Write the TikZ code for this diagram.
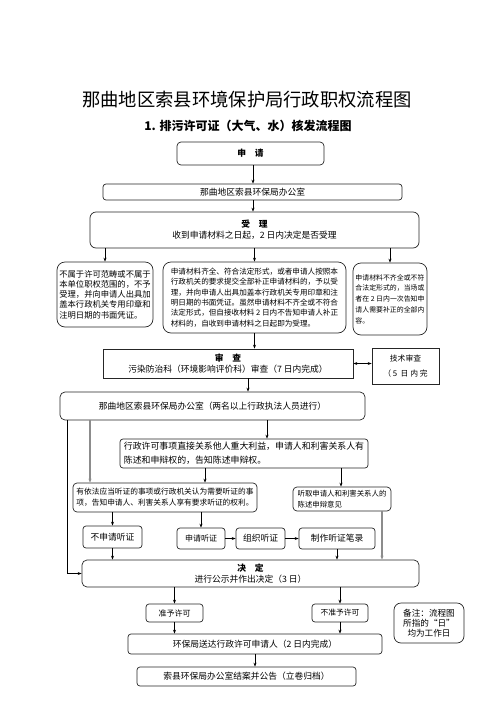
\documentclass[tikz,border=0pt]{standalone}
\usepackage{fontspec}
\setmainfont{Noto Sans CJK SC}
\usetikzlibrary{arrows.meta}
\begin{document}
\begin{tikzpicture}[
      x=1pt, y=-1pt,
      >={Stealth[length=4pt,width=3pt]},
      etape/.style={
        draw=black!85,
        line width=0.7pt,
        rounded corners=3pt,
        inner sep=1pt,
        font=\fontsize{8.75}{11}\selectfont
      },
      bulle/.style={etape, rounded corners=8pt},
      carre/.style={etape, rounded corners=0pt},
      fleche/.style={->, line width=0.7pt},
      grise/.style={->, draw=black!45, line width=1.1pt}
    ]
    \useasboundingbox (0,0) rectangle (496,702);
    \node (titre) at (247,100) {\fontsize{18.3}{20}\selectfont 那曲地区索县环境保护局行政职权流程图};
    \node (soustitre) at (248,126) {\fontsize{12}{14}\selectfont\textbf{1. 排污许可证（大气、水）核发流程图}};

    \node[etape, rounded corners=4pt, minimum width=147pt, minimum height=23pt] (demande) at (250.5,153.5) {\textbf{申\quad 请}};
    \node[etape, minimum width=299pt, minimum height=16pt] (bureau) at (252.5,192) {那曲地区索县环保局办公室};
    \node[etape, rounded corners=6pt, minimum width=329pt, minimum height=36pt, align=center] (accepte) at (254.5,230) {\textbf{受\quad 理}\\收到申请材料之日起，2 日内决定是否受理};

    \node[bulle, minimum width=96pt, minimum height=65pt, align=left, font=\fontsize{8.3}{10.3}\selectfont] (gauche) at (105,294.5) {不属于许可范畴或不属于\\本单位职权范围的，不予\\受理，并向申请人出具加\\盖本行政机关专用印章和\\注明日期的书面凭证。};
    \node[bulle, minimum width=183pt, minimum height=71pt, align=left, font=\fontsize{7.6}{10.3}\selectfont] (milieu) at (254.5,297.5) {申请材料齐全、符合法定形式，或者申请人按照本\\行政机关的要求提交全部补正申请材料的，予以受\\理，并向申请人出具加盖本行政机关专用印章和注\\明日期的书面凭证。虽然申请材料不齐全或不符合\\法定形式，但自接收材料 2 日内不告知申请人补正\\材料的，自收到申请材料之日起即为受理。};
    \node[bulle, minimum width=74pt, minimum height=72pt, align=left, font=\fontsize{6.9}{10.7}\selectfont] (droite) at (390,299) {申请材料不齐全或不符\\合法定形式的，当场或\\者在 2 日内一次告知申\\请人需要补正的全部内\\容。};

    \node[carre, minimum width=250pt, minimum height=29pt, align=center] (examen) at (228,363.5) {\textbf{审\quad 查}\\污染防治科（环境影响评价科）审查（7 日内完成）};
    \node[carre, minimum width=67pt, minimum height=36pt, align=center, font=\fontsize{7.8}{15}\selectfont] (technique) at (405.5,366.5) {技术审查\\（\ 5\ \ 日\ 内\ 完};

    \node[etape, rounded corners=5pt, minimum width=305pt, minimum height=28pt] (bureaudeux) at (212.5,406) {那曲地区索县环保局办公室（两名以上行政执法人员进行）};
    \node[etape, minimum width=248pt, minimum height=29pt, align=left, font=\fontsize{8.9}{14}\selectfont] (informe) at (244,453.5) {行政许可事项直接关系他人重大利益，申请人和利害关系人有\\陈述和申辩权的，告知陈述申辩权。};

    \node[etape, rounded corners=4pt, minimum width=184pt, minimum height=29pt, align=left, font=\fontsize{7.7}{11}\selectfont] (audition) at (165,497.5) {有依法应当听证的事项或行政机关认为需要听证的事\\项，告知申请人、利害关系人享有要求听证的权利。};
    \node[etape, rounded corners=4pt, minimum width=98pt, minimum height=24pt, align=left, font=\fontsize{7.4}{10.5}\selectfont] (ecoute) at (342,499) {听取申请人和利害关系人的\\陈述申辩意见\hspace{3em}};

    \node[etape, minimum width=59pt, minimum height=22pt] (sansaud) at (112.5,537) {不申请听证};
    \node[etape, minimum width=48pt, minimum height=21pt, font=\fontsize{8}{9}\selectfont] (demaud) at (201,538.5) {申请听证};
    \node[etape, minimum width=49pt, minimum height=21pt] (orgaud) at (260.5,538.5) {组织听证};
    \node[etape, minimum width=76pt, minimum height=21pt] (proces) at (337,538.5) {制作听证笔录};

    \node[etape, rounded corners=5pt, minimum width=337pt, minimum height=27pt, align=center] (decision) at (250.5,573.5) {\textbf{决\quad 定}\\进行公示并作出决定（3 日）};

    \node[etape, minimum width=57pt, minimum height=18pt, font=\fontsize{8}{10}\selectfont] (accord) at (174.5,613) {准予许可};
    \node[etape, minimum width=56pt, minimum height=18pt, font=\fontsize{7.8}{10}\selectfont] (refus) at (340,613) {不准予许可};
    \node[etape, rounded corners=7pt, minimum width=70pt, minimum height=40pt, align=center, font=\fontsize{8.6}{9.8}\selectfont] (note) at (429,623) {备注：流程图\\所指的“日”\\均为工作日};

    \node[etape, minimum width=254pt, minimum height=20pt] (notifie) at (255,644) {环保局送达行政许可申请人（2 日内完成）};
    \node[etape, minimum width=219pt, minimum height=19pt] (archive) at (246.5,676.5) {索县环保局办公室结案并公告（立卷归档）};

    \node[coordinate,xshift=2.5pt] (demandeb) at (demande.south) {};
    \node[coordinate,xshift=20pt] (examenb) at (examen.south) {};
    \node[coordinate,xshift=-145.5pt] (bdg) at (bureaudeux.south) {};
    \node[coordinate,xshift=-122.5pt] (bdh) at (bureaudeux.south) {};
    \node[coordinate,xshift=54.5pt] (bdd) at (bureaudeux.south) {};
    \node[coordinate,xshift=-39pt] (infg) at (informe.south) {};
    \node[coordinate,xshift=97pt] (infd) at (informe.south) {};
    \node[coordinate,xshift=40pt] (ecouteb) at (ecoute.south) {};

    \draw[fleche] (demandeb) -- (demandeb |- bureau.north);
    \draw[fleche] (demandeb |- bureau.south) -- (demandeb |- accepte.north);
    \draw[fleche] (gauche.north |- accepte.south) -- (gauche.north);
    \draw[fleche] (milieu.north |- accepte.south) -- (milieu.north);
    \draw[fleche] (droite.north |- accepte.south) -- (droite.north);
    \draw[fleche] (milieu.south) -- (milieu.south |- examen.north);
    \draw[fleche, <->] (examen.east) -- (technique.west |- examen.east);
    \draw[fleche] (examenb) -- (examenb |- bureaudeux.north);
    \draw[fleche] (bdg) |- (decision.west);
    \draw[grise] (bdh) -- (bdh |- audition.north);
    \draw[fleche] (bdd) -- (bdd |- informe.north);
    \draw[fleche] (infg) -- (infg |- audition.north);
    \draw[fleche] (infd) -- (infd |- ecoute.north);
    \draw[fleche] (sansaud.north |- audition.south) -- (sansaud.north);
    \draw[fleche] (demaud.north |- audition.south) -- (demaud.north);
    \draw[fleche] (demaud.east) -- (orgaud.west);
    \draw[fleche] (orgaud.east) -- (proces.west);
    \draw[fleche] (sansaud.south) -- (sansaud.south |- decision.north);
    \draw[fleche] (proces.south) -- (proces.south |- decision.north);
    \draw[grise] (ecouteb) -- (ecouteb |- decision.north);
    \draw[fleche] (accord.north |- decision.south) -- (accord.north);
    \draw[fleche] (refus.north |- decision.south) -- (refus.north);
    \draw[fleche] (accord.south) -- (accord.south |- notifie.north);
    \draw[fleche] (refus.south) -- (refus.south |- notifie.north);
    \draw[fleche] (notifie.south) -- (notifie.south |- archive.north);

  \end{tikzpicture}
\end{document}
